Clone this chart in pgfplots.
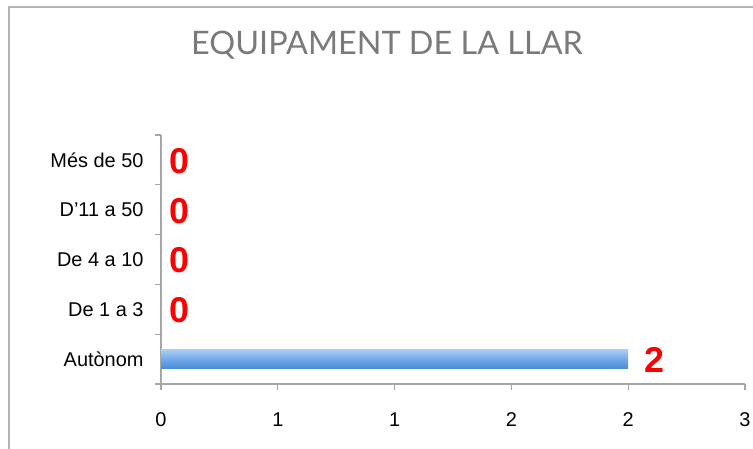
\documentclass[border=0pt]{standalone}
\usepackage{pgfplots}
\pgfplotsset{compat=1.18}
\usepackage{pgfplotstable}
\usepackage{fontspec}
\setmainfont{Liberation Sans}
\newfontfamily\titlefont{Lato}
\definecolor{axisgray}{HTML}{A6A6A6}
\definecolor{framegray}{HTML}{B4B4B4}
\definecolor{titlegray}{HTML}{7A7A7A}
\definecolor{bartop}{HTML}{A9CDF6}
\definecolor{barmid}{HTML}{72A9EA}
\definecolor{barbot}{HTML}{4A8AD6}
\definecolor{labred}{HTML}{FF0000}
\pgfplotstableread{
y val
0 2
}\barA
\pgfplotstableread{
y val
1 0
2 0
3 0
4 0
}\zeros
\begin{document}
\begin{tikzpicture}
\path[use as bounding box] (0bp,0bp) rectangle (753bp,-449bp);
\draw[framegray, line width=1.5bp] (9bp,-449bp) -- (9bp,-7bp) -- (753bp,-7bp);
\node[text=titlegray, font=\titlefont\fontsize{32.5}{36}\selectfont] at (387bp,-45bp) {EQUIPAMENT DE LA LLAR};
\begin{axis}[
  at={(161bp,-384bp)}, anchor=south west,
  scale only axis, width=584bp, height=249bp,
  xbar,
  xmin=0, xmax=2.5, ymin=-0.5, ymax=4.5,
  axis x line*=bottom, axis y line*=left,
  axis line style={axisgray, line width=1.2bp, -},
  tick align=outside,
  major tick length=6bp,
  tick style={axisgray, line width=1.2bp},
  /pgf/number format/assume math mode=true,
  xtick={0,0.5,1,1.5,2,2.5},
  xticklabels={0,1,1,2,2,3},
  ytick={-0.5,0.5,1.5,2.5,3.5,4.5},
  yticklabels={},
  extra y ticks={0,1,2,3,4},
  extra y tick labels={Autònom,De 1 a 3,De 4 a 10,D’11 a 50,Més de 50},
  extra y tick style={tick style={draw=none}},
  ticklabel style={font=\fontsize{20}{24}\selectfont, text=black},
  yticklabel style={anchor=east, xshift=-8bp},
  xticklabel style={yshift=-19bp},
  clip=false,
]
\addplot[bar shift=0pt, bar width=19bp, draw=none,
  top color=bartop, bottom color=barbot, middle color=barmid,
  nodes near coords,
  nodes near coords style={anchor=west, xshift=13bp, yshift=-1bp, text=labred,
    font=\bfseries\fontsize{36}{36}\selectfont}]
  table[x=val, y=y] {\barA};
\addplot[bar shift=0pt, bar width=19bp, draw=none, fill=none,
  nodes near coords,
  nodes near coords style={anchor=west, xshift=5bp, yshift=-1bp, text=labred,
    font=\bfseries\fontsize{36}{36}\selectfont}]
  table[x=val, y=y] {\zeros};
\end{axis}
\end{tikzpicture}
\end{document}
